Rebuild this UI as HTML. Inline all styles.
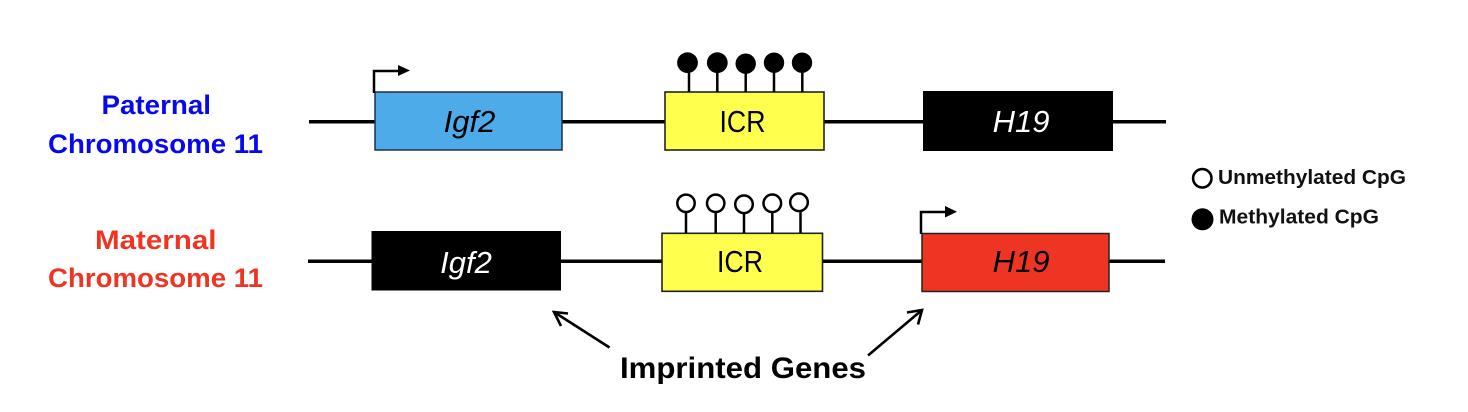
<!DOCTYPE html>
<html>
<head>
<meta charset="utf-8">
<style>
html,body{margin:0;padding:0;background:#fff;width:1468px;height:412px;overflow:hidden}
svg{display:block;filter:blur(0.35px)}
text{font-family:"Liberation Sans",sans-serif}
</style>
</head>
<body>
<svg width="1468" height="412" viewBox="0 0 1468 412" xmlns="http://www.w3.org/2000/svg">
<rect width="1468" height="412" fill="#fff"/>

<!-- Row lines -->
<line x1="309" y1="121.8" x2="1166" y2="121.8" stroke="#000" stroke-width="3.5"/>
<line x1="308" y1="261.2" x2="1165" y2="261.2" stroke="#000" stroke-width="3.5"/>

<!-- Paternal boxes -->
<rect x="375" y="92" width="187" height="58" fill="#4dabe9" stroke="#1c3048" stroke-width="1.5"/>
<rect x="665" y="92" width="159" height="58" fill="#ffff4d" stroke="#222" stroke-width="1.6"/>
<rect x="923" y="91" width="190" height="60" fill="#000"/>
<text x="469.5" y="132" font-size="31" font-style="italic" text-anchor="middle" fill="#000">Igf2</text>
<text x="719.5" y="132" font-size="31" textLength="46" lengthAdjust="spacingAndGlyphs" fill="#000">ICR</text>
<text x="1021" y="132" font-size="31" font-style="italic" text-anchor="middle" fill="#fff">H19</text>

<!-- Maternal boxes -->
<rect x="371.5" y="231" width="189.5" height="59.5" fill="#000"/>
<rect x="662" y="233.3" width="160.5" height="58" fill="#ffff4d" stroke="#222" stroke-width="1.6"/>
<rect x="922" y="233.5" width="187" height="58" fill="#ee3524" stroke="#222" stroke-width="1.5"/>
<text x="466" y="273" font-size="31" font-style="italic" text-anchor="middle" fill="#fff">Igf2</text>
<text x="717" y="272" font-size="31" textLength="46" lengthAdjust="spacingAndGlyphs" fill="#000">ICR</text>
<text x="1021" y="272" font-size="31" font-style="italic" text-anchor="middle" fill="#000">H19</text>

<!-- Promoter arrows -->
<path d="M374,93 V71 H400" fill="none" stroke="#000" stroke-width="2.5"/>
<path d="M398,65 L410,70.5 L398,76 Z" fill="#000"/>
<path d="M921,234 V212 H947" fill="none" stroke="#000" stroke-width="2.5"/>
<path d="M945,206 L957,211.7 L945,217.5 Z" fill="#000"/>

<!-- Methylated lollipops -->
<g stroke="#000" stroke-width="2.5" fill="#000">
<line x1="689" y1="63" x2="689" y2="92"/>
<line x1="717.3" y1="63" x2="717.3" y2="92"/>
<line x1="745.7" y1="64" x2="745.7" y2="92"/>
<line x1="774" y1="63" x2="774" y2="92"/>
<line x1="802.3" y1="63" x2="802.3" y2="92"/>
</g>
<g fill="#000">
<circle cx="687.5" cy="62.7" r="10.4"/>
<circle cx="717.3" cy="62.7" r="10.4"/>
<circle cx="745.7" cy="63.7" r="10.2"/>
<circle cx="774" cy="62.7" r="10.2"/>
<circle cx="802" cy="62.7" r="10.2"/>
</g>

<!-- Unmethylated lollipops -->
<g stroke="#000" stroke-width="2.5" fill="#fff">
<line x1="686" y1="212" x2="686" y2="233"/><circle cx="686" cy="203.3" r="8.7"/>
<line x1="715.7" y1="212" x2="715.7" y2="233"/><circle cx="715.7" cy="203.3" r="8.7"/>
<line x1="744" y1="213" x2="744" y2="233"/><circle cx="744" cy="204.3" r="8.8"/>
<line x1="772.3" y1="212" x2="772.3" y2="233"/><circle cx="772.3" cy="203.3" r="8.8"/>
<line x1="800.5" y1="211" x2="800.5" y2="233"/><circle cx="799" cy="202.3" r="8.8"/>
</g>

<!-- Left labels -->
<text x="101.5" y="114" font-size="27" font-weight="bold" textLength="109.5" lengthAdjust="spacingAndGlyphs" fill="#0808f0">Paternal</text>
<text x="48" y="153" font-size="27" font-weight="bold" textLength="215" lengthAdjust="spacingAndGlyphs" fill="#0808f0">Chromosome 11</text>
<text x="95" y="249" font-size="27" font-weight="bold" textLength="121.5" lengthAdjust="spacingAndGlyphs" fill="#ee3524">Maternal</text>
<text x="48" y="287" font-size="27" font-weight="bold" textLength="215" lengthAdjust="spacingAndGlyphs" fill="#ee3524">Chromosome 11</text>

<!-- Legend -->
<circle cx="1202.3" cy="178.3" r="9.2" fill="#fff" stroke="#000" stroke-width="2.6"/>
<text x="1218" y="184" font-size="20.5" font-weight="bold" textLength="188" lengthAdjust="spacingAndGlyphs" fill="#111">Unmethylated CpG</text>
<circle cx="1202.5" cy="219.3" r="11" fill="#000"/>
<text x="1219" y="223.5" font-size="20.5" font-weight="bold" textLength="160" lengthAdjust="spacingAndGlyphs" fill="#111">Methylated CpG</text>

<!-- Imprinted genes -->
<text x="620" y="378" font-size="30" font-weight="bold" textLength="246" lengthAdjust="spacingAndGlyphs" fill="#000">Imprinted Genes</text>
<g fill="none" stroke="#000" stroke-width="2.6">
<path d="M609.5,347.5 L554,312"/>
<path d="M568,313.5 L554,312 L561,326"/>
<path d="M868,355.5 L922,310"/>
<path d="M907,312.5 L922,310 L918,324.5"/>
</g>
</svg>
</body>
</html>
